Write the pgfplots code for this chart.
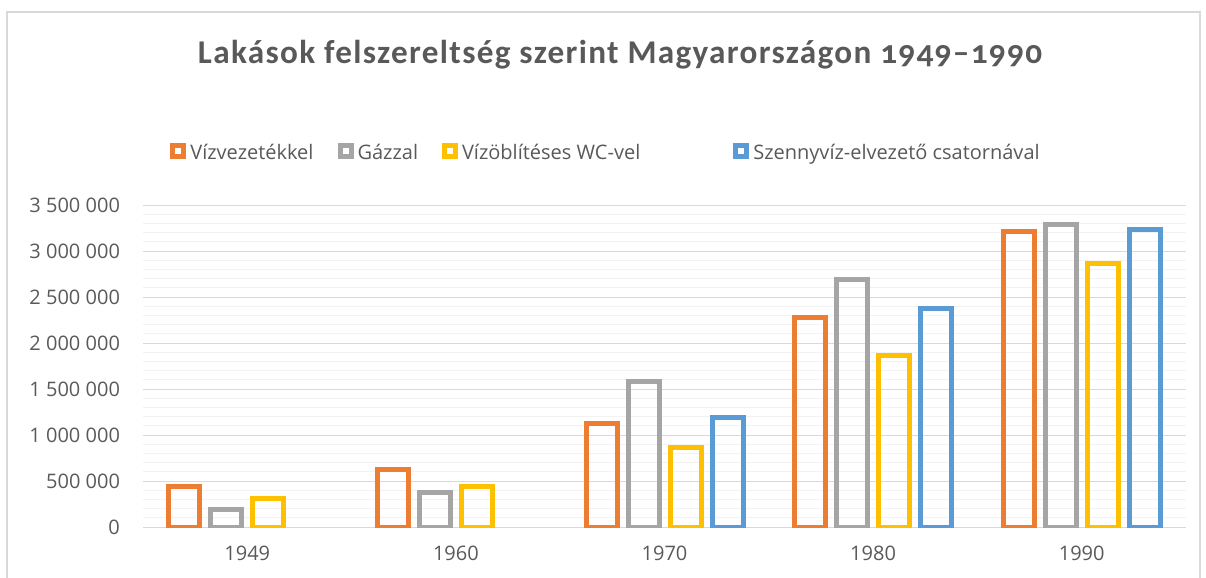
\documentclass[border=0pt]{standalone}
\usepackage{pgfplots}
\pgfplotsset{compat=1.18}
\usepackage{fontspec}
\setmainfont{Open Sans}
\newfontfamily\titlefont[LetterSpace=4,Numbers=OldStyle]{Carlito}
\definecolor{cOrange}{HTML}{ED7D31}
\definecolor{cGray}{HTML}{A5A5A5}
\definecolor{cYellow}{HTML}{FFC000}
\definecolor{cBlue}{HTML}{5B9BD5}
\definecolor{txt}{HTML}{595959}
\definecolor{gridMaj}{HTML}{D9D9D9}
\definecolor{gridMin}{HTML}{F2F2F2}
\begin{document}
\begin{tikzpicture}
\useasboundingbox (0,0) rectangle (603pt,-289pt);
\draw[color=gridMaj, line width=0.6pt] (3.5pt,-6pt) rectangle (600pt,-320pt);
\node[anchor=base, text=txt, font=\titlefont\bfseries\fontsize{16.6}{19}\selectfont]
  at (310pt,-31.5pt) {Lakások felszereltség szerint Magyarországon 1949–1990};
\begin{axis}[
  at={(71.5pt,-263.5pt)}, anchor=south west,
  scale only axis, width=521.5pt, height=161pt,
  ybar=5.5pt, bar width=15.5pt,
  xmin=-0.5, xmax=4.5, ymin=0, ymax=3500000,
  xtick={0,1,2,3,4}, xticklabels={1949,1960,1970,1980,1990},
  ytick={0,500000,...,3500000},
  minor y tick num=4,
  ymajorgrids, yminorgrids,
  major grid style={color=gridMaj, line width=0.5pt},
  minor grid style={color=gridMin, line width=0.5pt},
  axis line style={draw=none},
  major tick length=0pt, minor tick length=0pt,
  tick label style={font=\fontsize{10}{12}\selectfont, text=txt},
  xticklabel style={yshift=-6pt},
  scaled y ticks=false,
  yticklabel style={xshift=-8pt, /pgf/number format/.cd, fixed, 1000 sep={\ }, assume math mode=true},
  legend style={at={(0.0259,1.1615)}, anchor=west, draw=none, fill=none, inner sep=0pt,
    legend columns=-1, font=\fontsize{10}{12}\selectfont, text=txt,
    /tikz/every even column/.append style={column sep=10pt}},
  legend image code/.code={\draw[#1, fill=white, line width=2.5pt] (0pt,-1.5pt) rectangle (5.5pt,4pt);},
]
\addplot[draw=cOrange, fill=none, line width=2.5pt] coordinates {(0,435000) (1,630000) (2,1130000) (3,2272000) (4,3217000)};
\addplot[draw=cGray, fill=none, line width=2.5pt] coordinates {(0,185000) (1,380000) (2,1587000) (3,2685000) (4,3283000)};
\addplot[draw=cYellow, fill=none, line width=2.5pt] coordinates {(0,315000) (1,445000) (2,859000) (3,1859000) (4,2859000)};
\addplot[draw=cBlue, fill=none, line width=2.5pt] coordinates {(2,1185000) (3,2370000) (4,3239000)};
\legend{Vízvezetékkel, Gázzal, Vízöblítéses WC-vel\hspace{34.5pt}\mbox{}, Szennyvíz-elvezető csatornával}
\end{axis}
\end{tikzpicture}
\end{document}
